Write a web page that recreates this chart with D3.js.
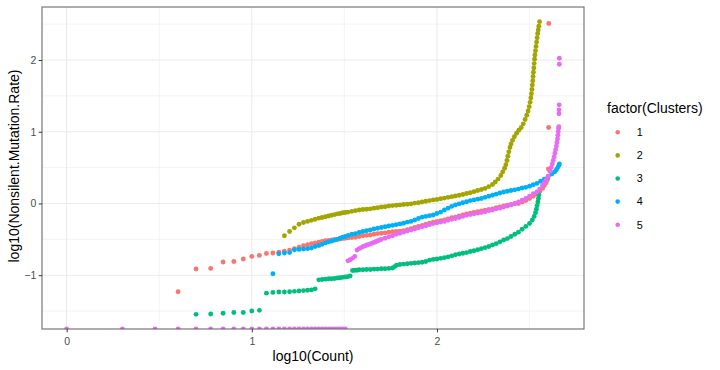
<!DOCTYPE html>
<html>
<head>
<meta charset="utf-8">
<script src="https://cdn.jsdelivr.net/npm/d3@7"></script>
<style>
  body { margin: 0; background: #fff; }
  text { font-family: "Liberation Sans", Arial, sans-serif; }
</style>
</head>
<body>
<script>
// cluster names and ggplot hue colours
var clusters = ["1", "2", "3", "4", "5"];
var colors = ["#F8766D", "#A3A500", "#00BF7D", "#00B0F6", "#E76BF3"];

// x = log10(Count), y = log10(Nonsilent.Mutation.Rate)
var c1x = [0.602,0.699,0.778,0.845,0.903,0.954,1.000,1.041,1.079,1.114,1.146,1.176,1.204,1.230,1.255,1.279,1.301,1.322,1.342,1.362,1.380,1.398,1.415,1.431,1.447,1.462,1.477,1.491,1.505,1.52,1.54,1.56,1.58,1.60,1.62,1.64,1.66,1.68,1.70,1.72,1.74,1.76,1.78,1.80,1.82,1.84,1.86,1.88,1.90,1.92,1.94,1.96,1.98,2.00,2.02,2.04,2.06,2.08,2.10,2.12,2.14,2.16,2.18,2.20,2.22,2.24,2.26,2.28,2.30,2.32,2.34,2.36,2.38,2.40,2.42,2.44,2.46,2.48,2.50,2.52,2.54,2.555,2.57,2.58,2.59,2.597,2.602,2.603,2.604];
var c1y = [-1.23,-0.914,-0.905,-0.816,-0.808,-0.774,-0.738,-0.724,-0.696,-0.691,-0.68,-0.665,-0.65,-0.63,-0.61,-0.59,-0.575,-0.56,-0.55,-0.54,-0.53,-0.52,-0.515,-0.51,-0.505,-0.50,-0.495,-0.49,-0.485,-0.48,-0.475,-0.47,-0.46,-0.45,-0.445,-0.44,-0.43,-0.42,-0.415,-0.41,-0.40,-0.395,-0.39,-0.385,-0.38,-0.365,-0.35,-0.335,-0.32,-0.305,-0.29,-0.275,-0.26,-0.25,-0.24,-0.23,-0.215,-0.20,-0.19,-0.175,-0.16,-0.145,-0.135,-0.125,-0.115,-0.105,-0.095,-0.085,-0.075,-0.06,-0.05,-0.035,-0.025,-0.015,-0.005,0.0,0.02,0.04,0.07,0.10,0.13,0.17,0.21,0.25,0.29,0.33,0.48,1.06,2.51];

var c2x = [1.176,1.204,1.230,1.255,1.279,1.301,1.322,1.342,1.362,1.380,1.398,1.415,1.431,1.447,1.462,1.477,1.491,1.505,1.52,1.54,1.56,1.58,1.60,1.62,1.64,1.66,1.68,1.70,1.72,1.74,1.76,1.78,1.80,1.82,1.84,1.86,1.88,1.90,1.92,1.94,1.96,1.98,2.00,2.02,2.04,2.06,2.08,2.10,2.12,2.14,2.16,2.18,2.20,2.22,2.24,2.26,2.28,2.30,2.315,2.33,2.345,2.355,2.365,2.372,2.378,2.383,2.388,2.394,2.40,2.408,2.418,2.43,2.442,2.455,2.466,2.476,2.485,2.492,2.498,2.503,2.507,2.510,2.513,2.515,2.517,2.519,2.521,2.523,2.525,2.527,2.529,2.532,2.535,2.538,2.541,2.544,2.547,2.550,2.554];
var c2y = [-0.45,-0.39,-0.34,-0.29,-0.265,-0.25,-0.235,-0.22,-0.205,-0.195,-0.185,-0.175,-0.165,-0.155,-0.145,-0.14,-0.13,-0.125,-0.12,-0.11,-0.10,-0.09,-0.085,-0.08,-0.075,-0.065,-0.06,-0.05,-0.045,-0.035,-0.03,-0.025,-0.02,-0.015,-0.01,-0.005,0.005,0.01,0.02,0.03,0.04,0.05,0.055,0.065,0.075,0.085,0.095,0.105,0.115,0.125,0.14,0.15,0.165,0.18,0.195,0.21,0.235,0.265,0.30,0.34,0.39,0.44,0.49,0.54,0.60,0.66,0.72,0.78,0.83,0.88,0.93,0.98,1.02,1.06,1.11,1.17,1.23,1.29,1.35,1.41,1.47,1.53,1.59,1.65,1.71,1.77,1.83,1.89,1.95,2.01,2.07,2.13,2.19,2.25,2.31,2.37,2.42,2.47,2.535];

var c3x = [0.699,0.778,0.845,0.903,0.954,1.000,1.041,1.079,1.114,1.146,1.176,1.204,1.230,1.255,1.279,1.301,1.322,1.342,1.362,1.380,1.398,1.415,1.431,1.447,1.462,1.477,1.491,1.505,1.519,1.531,1.544,1.556,1.568,1.58,1.60,1.62,1.64,1.66,1.68,1.70,1.72,1.74,1.76,1.772,1.782,1.80,1.82,1.84,1.86,1.88,1.90,1.92,1.94,1.96,1.98,2.00,2.02,2.04,2.06,2.08,2.10,2.12,2.14,2.16,2.18,2.20,2.22,2.24,2.26,2.28,2.30,2.32,2.34,2.36,2.38,2.40,2.42,2.44,2.46,2.48,2.50,2.515,2.525,2.532,2.537,2.541,2.545,2.548,2.551];
var c3y = [-1.546,-1.54,-1.53,-1.52,-1.52,-1.50,-1.49,-1.25,-1.24,-1.235,-1.235,-1.23,-1.225,-1.22,-1.215,-1.21,-1.205,-1.19,-1.065,-1.06,-1.055,-1.05,-1.05,-1.045,-1.04,-1.035,-1.03,-1.025,-1.02,-1.01,-0.935,-0.93,-0.93,-0.925,-0.925,-0.92,-0.92,-0.915,-0.915,-0.91,-0.91,-0.905,-0.90,-0.88,-0.86,-0.85,-0.845,-0.84,-0.835,-0.83,-0.825,-0.82,-0.81,-0.79,-0.78,-0.775,-0.765,-0.755,-0.745,-0.73,-0.715,-0.705,-0.695,-0.685,-0.67,-0.66,-0.645,-0.63,-0.615,-0.60,-0.58,-0.56,-0.535,-0.51,-0.49,-0.46,-0.43,-0.40,-0.36,-0.32,-0.28,-0.23,-0.18,-0.13,-0.08,-0.03,0.02,0.07,0.12];

var c4x = [1.114,1.146,1.176,1.204,1.230,1.255,1.279,1.301,1.322,1.342,1.362,1.380,1.398,1.415,1.431,1.447,1.462,1.477,1.491,1.505,1.52,1.54,1.56,1.58,1.60,1.62,1.64,1.66,1.68,1.70,1.72,1.74,1.76,1.78,1.80,1.82,1.84,1.86,1.88,1.90,1.92,1.94,1.96,1.98,2.00,2.02,2.04,2.06,2.08,2.10,2.12,2.14,2.16,2.18,2.20,2.22,2.24,2.26,2.28,2.30,2.32,2.34,2.36,2.38,2.40,2.42,2.44,2.46,2.48,2.50,2.52,2.54,2.56,2.58,2.60,2.62,2.635,2.645,2.652,2.658,2.661];
var c4y = [-0.98,-0.70,-0.69,-0.685,-0.645,-0.64,-0.635,-0.63,-0.62,-0.60,-0.585,-0.57,-0.55,-0.535,-0.525,-0.51,-0.50,-0.485,-0.47,-0.46,-0.445,-0.43,-0.42,-0.405,-0.39,-0.38,-0.37,-0.355,-0.345,-0.335,-0.325,-0.315,-0.305,-0.295,-0.285,-0.275,-0.26,-0.25,-0.23,-0.21,-0.19,-0.18,-0.17,-0.16,-0.14,-0.12,-0.09,-0.065,-0.04,-0.02,-0.005,0.01,0.025,0.04,0.05,0.06,0.07,0.085,0.10,0.115,0.13,0.145,0.16,0.17,0.18,0.19,0.20,0.215,0.225,0.24,0.26,0.28,0.31,0.34,0.37,0.41,0.44,0.47,0.50,0.53,0.55];

var c5x = [1.519,1.531,1.544,1.556,1.568,1.580,1.591,1.602,1.613,1.623,1.633,1.643,1.653,1.663,1.672,1.681,1.690,1.70,1.72,1.74,1.76,1.78,1.80,1.82,1.84,1.86,1.88,1.90,1.92,1.94,1.96,1.98,2.00,2.02,2.04,2.06,2.08,2.10,2.12,2.14,2.16,2.18,2.20,2.22,2.24,2.26,2.28,2.30,2.32,2.34,2.36,2.38,2.40,2.42,2.44,2.46,2.48,2.50,2.52,2.54,2.555,2.57,2.58,2.59,2.60,2.61,2.617,2.623,2.628,2.633,2.637,2.641,2.645,2.648,2.651,2.653,2.655,2.657,2.658,2.659,2.659,2.660,2.661,2.661];
var c5y = [-0.80,-0.785,-0.765,-0.74,-0.65,-0.63,-0.615,-0.60,-0.59,-0.58,-0.57,-0.56,-0.55,-0.54,-0.53,-0.52,-0.51,-0.50,-0.485,-0.465,-0.45,-0.43,-0.415,-0.40,-0.385,-0.37,-0.355,-0.34,-0.325,-0.31,-0.295,-0.28,-0.27,-0.26,-0.25,-0.235,-0.22,-0.21,-0.195,-0.18,-0.165,-0.155,-0.145,-0.135,-0.125,-0.115,-0.10,-0.09,-0.075,-0.065,-0.05,-0.035,-0.02,0.0,0.02,0.045,0.07,0.10,0.135,0.16,0.20,0.25,0.29,0.33,0.38,0.45,0.50,0.55,0.60,0.65,0.70,0.75,0.80,0.85,0.90,0.95,1.00,1.05,1.07,1.25,1.305,1.375,1.94,2.025];

// counts whose rate is zero: log10(0) = -Inf, drawn on the panel floor
var zeroX = [0,0.301,0.477,0.602,0.699,0.778,0.845,0.903,0.954,1.000,1.041,1.079,1.114,1.146,1.176,1.204,1.230,1.255,1.279,1.301,1.322,1.342,1.362,1.380,1.398,1.415,1.431,1.447,1.462,1.477,1.491,1.505];

var xTicks = [0, 1, 2];
var yTicks = [-1, 0, 1, 2];
var xMinor = [0.5, 1.5, 2.5];
var yMinor = [-1.5, -0.5, 0.5, 1.5, 2.5];

var seriesX = [c1x, c2x, c3x, c4x, c5x];
var seriesY = [c1y, c2y, c3y, c4y, c5y];

const width = 720, height = 370;
const margin = { left: 42, right: 136, top: 7, bottom: 41 };
const pw = width - margin.left - margin.right;
const ph = height - margin.top - margin.bottom;
const dotR = 2.45;

var points = [];
seriesX.forEach(function (xs, k) {
  xs.forEach(function (v, i) {
    points.push({ cluster: k, x: v, y: seriesY[k][i] });
  });
});

// ggplot style 5% expansion of the data range
var xExt = d3.extent(points.map(d => d.x).concat(zeroX));
var yExt = d3.extent(points, d => d.y);
var xr = xExt[1] - xExt[0], yr = yExt[1] - yExt[0];

var x = d3.scaleLinear().domain([xExt[0] - 0.05 * xr, xExt[1] + 0.05 * xr]).range([0, pw]);
var y = d3.scaleLinear().domain([yExt[0] - 0.05 * yr, yExt[1] + 0.05 * yr]).range([ph, 0]);

var svg = d3.select("body").append("svg")
  .attr("width", width)
  .attr("height", height)
  .style("background", "#fff");

svg.append("defs").append("clipPath").attr("id", "panel")
  .append("rect").attr("width", pw).attr("height", ph);

var g = svg.append("g").attr("transform", `translate(${margin.left},${margin.top})`);

// grid
var grid = g.append("g");
grid.selectAll(".xminor").data(xMinor).enter().append("line")
  .attr("x1", d => x(d)).attr("x2", d => x(d)).attr("y1", 0).attr("y2", ph)
  .attr("stroke", "#EBEBEB").attr("stroke-width", 0.6);
grid.selectAll(".yminor").data(yMinor).enter().append("line")
  .attr("y1", d => y(d)).attr("y2", d => y(d)).attr("x1", 0).attr("x2", pw)
  .attr("stroke", "#EBEBEB").attr("stroke-width", 0.6);
grid.selectAll(".xmajor").data(xTicks).enter().append("line")
  .attr("x1", d => x(d)).attr("x2", d => x(d)).attr("y1", 0).attr("y2", ph)
  .attr("stroke", "#EBEBEB").attr("stroke-width", 1.1);
grid.selectAll(".ymajor").data(yTicks).enter().append("line")
  .attr("y1", d => y(d)).attr("y2", d => y(d)).attr("x1", 0).attr("x2", pw)
  .attr("stroke", "#EBEBEB").attr("stroke-width", 1.1);

// points
var pg = g.append("g").attr("clip-path", "url(#panel)");
pg.selectAll(".pt").data(points).enter().append("circle")
  .attr("cx", d => x(d.x))
  .attr("cy", d => y(d.y))
  .attr("r", dotR)
  .attr("fill", d => colors[d.cluster]);

pg.selectAll(".zero").data(zeroX).enter().append("circle")
  .attr("cx", d => x(d))
  .attr("cy", ph)
  .attr("r", dotR)
  .attr("fill", colors[4]);

// border
g.append("rect").attr("width", pw).attr("height", ph)
  .attr("fill", "none").attr("stroke", "#6b6b6b").attr("stroke-width", 1.1);

// axes
var xAxis = d3.axisBottom(x).tickValues(xTicks).tickSize(3.3).tickPadding(4.8).tickFormat(d3.format("d"));
var yAxis = d3.axisLeft(y).tickValues(yTicks).tickSize(3.3).tickPadding(2.4).tickFormat(d3.format("d"));

var xa = g.append("g").attr("transform", `translate(0,${ph})`).call(xAxis);
var ya = g.append("g").call(yAxis);
[xa, ya].forEach(function (a) {
  a.select(".domain").remove();
  a.selectAll("line").attr("stroke", "#333333").attr("stroke-width", 1);
  a.selectAll("text").attr("fill", "#4D4D4D").style("font-size", "10.5px")
    .style("font-family", "'Liberation Sans', Arial, sans-serif");
});

// axis titles
svg.append("text")
  .attr("x", margin.left + pw / 2).attr("y", 360.5)
  .attr("text-anchor", "middle").style("font-size", "14px").attr("fill", "#000")
  .text("log10(Count)");
svg.append("text")
  .attr("transform", `translate(18.5,${margin.top + ph / 2 - 2}) rotate(-90)`)
  .attr("text-anchor", "middle").style("font-size", "14px").attr("fill", "#000")
  .text("log10(Nonsilent.Mutation.Rate)");

// legend
var lg = svg.append("g").attr("transform", "translate(607,0)");
lg.append("text").attr("x", 0).attr("y", 112.8)
  .style("font-size", "14px").attr("fill", "#000").text("factor(Clusters)");
var items = lg.selectAll(".item").data(clusters).enter().append("g")
  .attr("transform", (d, i) => `translate(0,${132.3 + i * 23.1})`);
items.append("circle").attr("cx", 10.7).attr("cy", 0).attr("r", 2.3)
  .attr("fill", (d, i) => colors[i]);
items.append("text").attr("x", 29.7).attr("y", 3.8)
  .style("font-size", "10.8px").attr("fill", "#000").text(d => d);
</script>
</body>
</html>
